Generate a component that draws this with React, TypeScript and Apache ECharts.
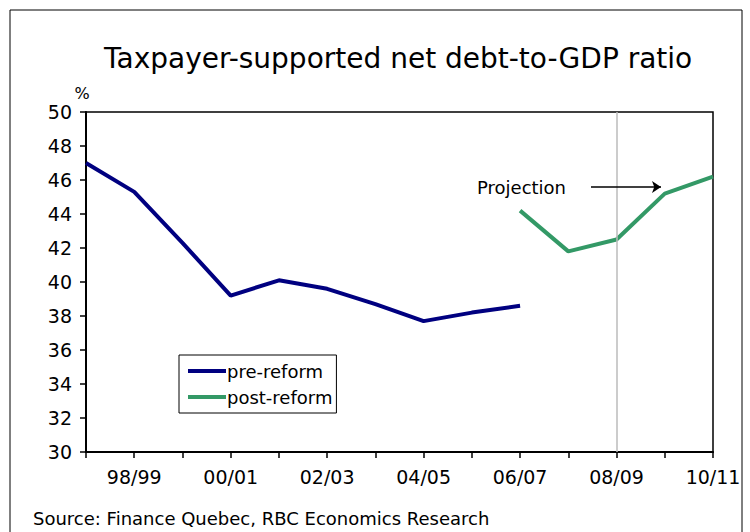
import React, { useEffect, useRef } from "react";
import * as echarts from "echarts";

const categories = ["97/98", "98/99", "99/00", "00/01", "01/02", "02/03", "03/04", "04/05", "05/06", "06/07", "07/08", "08/09", "09/10", "10/11"];
const preReform = [47.0, 45.3, 42.3, 39.2, 40.1, 39.6, 38.7, 37.7, 38.2, 38.6, null, null, null, null];
const postReform = [null, null, null, null, null, null, null, null, null, 44.2, 41.8, 42.5, 45.2, 46.2];
const yTicks = { min: 30, max: 50, interval: 2 };
const projectionAt = "08/09";

const FONT = "DejaVu Sans";

export default function App() {
  const ref = useRef<HTMLDivElement>(null);
  useEffect(() => {
    const chart = echarts.init(ref.current!, null, { renderer: "svg" });
    chart.setOption({
      animation: false,
      textStyle: { fontFamily: FONT },
      title: {
        text: "Taxpayer-supported net debt-to-GDP ratio",
        left: 99,
        top: 39,
        textStyle: { fontFamily: FONT, fontSize: 28, fontWeight: "normal", color: "#000" },
      },
      grid: {
        left: 86, top: 112, right: 37, bottom: 80,
        show: true, borderColor: "#000", borderWidth: 1.5, backgroundColor: "transparent",
      },
      legend: {
        orient: "vertical",
        left: 179, top: 355,
        data: ["pre-reform", "post-reform"],
        icon: "rect",
        itemWidth: 38, itemHeight: 4, itemGap: 8,
        borderColor: "#000", borderWidth: 1,
        padding: [7, 4, 7, 9],
        textStyle: { fontFamily: FONT, fontSize: 18, color: "#000", padding: [0, 0, 0, -4] },
      },
      xAxis: {
        type: "category",
        data: categories,
        boundaryGap: false,
        axisLine: { lineStyle: { color: "#000", width: 2 } },
        axisTick: { show: true, length: 6, inside: false, interval: 0, lineStyle: { color: "#000", width: 1.5 } },
        axisLabel: {
          interval: (i: number) => i % 2 === 1,
          color: "#000", fontSize: 19, fontFamily: FONT, margin: 15,
        },
        splitLine: { show: false },
      },
      yAxis: {
        type: "value",
        min: yTicks.min, max: yTicks.max, interval: yTicks.interval,
        axisLine: { show: true, lineStyle: { color: "#000", width: 2 } },
        axisTick: { show: true, length: 6, lineStyle: { color: "#000", width: 1.5 } },
        axisLabel: { color: "#000", fontSize: 19, fontFamily: FONT, margin: 14 },
        splitLine: { show: false },
      },
      series: [
        {
          name: "pre-reform",
          type: "line",
          data: preReform,
          symbol: "none",
          lineStyle: { color: "#000080", width: 4 },
          itemStyle: { color: "#000080" },
          markLine: {
            silent: true,
            symbol: "none",
            label: { show: false },
            lineStyle: { color: "#bbbbbb", width: 1.5, type: "solid" },
            data: [{ xAxis: projectionAt }],
          },
        },
        {
          name: "post-reform",
          type: "line",
          data: postReform,
          symbol: "none",
          lineStyle: { color: "#339966", width: 4 },
          itemStyle: { color: "#339966" },
          markLine: {
            silent: true,
            symbol: ["none", "arrow"],
            symbolSize: 9,
            label: { show: false },
            lineStyle: { color: "#000", width: 1.5, type: "solid" },
            itemStyle: { color: "#000" },
            data: [[{ x: 591, y: 187 }, { x: 661, y: 187 }]],
          },
        },
      ],
      graphic: [
        { type: "rect", shape: { x: 10, y: 10, width: 732, height: 540 }, style: { fill: "none", stroke: "#000", lineWidth: 1 }, silent: true },
        { type: "text", x: 82, y: 93, style: { text: "%", fontFamily: FONT, fontSize: 16, fill: "#000", textAlign: "center", textVerticalAlign: "middle" } },
        { type: "text", x: 477, y: 187, style: { text: "Projection", fontFamily: FONT, fontSize: 18, fill: "#000", textAlign: "left", textVerticalAlign: "middle" } },
        { type: "text", x: 33, y: 518, style: { text: "Source: Finance Quebec, RBC Economics Research", fontFamily: FONT, fontSize: 18, fill: "#000", textAlign: "left", textVerticalAlign: "middle" } },
      ],
    });
    return () => chart.dispose();
  }, []);
  return <div ref={ref} style={{ position: "fixed", left: 0, top: 0, width: 750, height: 532, background: "#fff" }} />;
}
